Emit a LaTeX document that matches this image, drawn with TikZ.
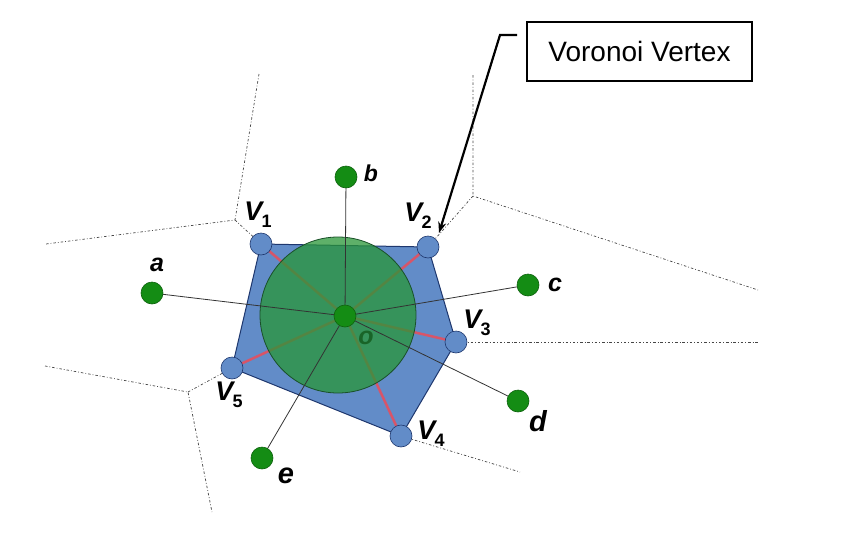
\documentclass[tikz,border=0pt]{standalone}
\usepackage{fontspec}
\setmainfont{Liberation Sans}
\usetikzlibrary{arrows.meta}
\definecolor{polyblue}{RGB}{98,140,200}
\definecolor{polyedge}{RGB}{30,55,110}
\definecolor{circgreen}{RGB}{40,150,55}
\definecolor{circedge}{RGB}{25,80,40}
\definecolor{sitegreen}{RGB}{20,140,20}
\definecolor{redline}{RGB}{215,85,105}
\definecolor{vorogray}{RGB}{70,70,70}
\definecolor{ogreen}{RGB}{25,100,40}
\pgfdeclarelayer{bg}
\pgfsetlayers{bg,main}
\newcommand{\vlab}[2]{V\kern-1pt{\fontsize{18}{18}\selectfont\bfseries\upshape\raisebox{-7pt}{#2}}}
\begin{document}
\begin{tikzpicture}[x=1pt,y=-1pt,
  site/.style={circle, fill=sitegreen, draw=sitegreen!70!black, line width=0.6pt, minimum size=22pt, inner sep=0pt},
  vert/.style={circle, fill=polyblue, draw=polyedge, line width=0.6pt, minimum size=22pt, inner sep=0pt},
  lab/.style={font=\bfseries\itshape\fontsize{25}{25}\selectfont, inner sep=0pt},
  vl/.style={font=\bfseries\itshape\fontsize{27}{27}\selectfont, inner sep=0pt},
  voro/.style={vorogray, line width=0.7pt, dash pattern=on 2.5pt off 2pt on 0.8pt off 2pt},
  spoke/.style={black!80, line width=0.8pt},
  redspoke/.style={redline, line width=2.5pt},
  callout/.style={draw, line width=2.4pt, minimum width=225pt, minimum height=59pt, inner sep=0pt, font=\fontsize{28}{28}\selectfont}]
\useasboundingbox (0,0) rectangle (844,552);

% sites and vertices
\node[vert] (V1) at (261,244) {};
\node[vert] (V2) at (428,247) {};
\node[vert] (V3) at (456,342) {};
\node[vert] (V4) at (401,436) {};
\node[vert] (V5) at (232,368) {};
\node[site] (O) at (345,316) {};
\node[site] (a) at (152,293) {};
\node[site] (b) at (346,177) {};
\node[site] (c) at (528,285) {};
\node[site] (d) at (518,401) {};
\node[site] (e) at (262,458) {};

% voronoi structure coordinates
\coordinate (P1) at (235,220);
\coordinate (P1u) at (259,74);
\coordinate (P1l) at (46,244);
\coordinate (P2) at (473,196);
\coordinate (P2u) at (473,75);
\coordinate (P2r) at (758,290);
\coordinate (P3r) at (758,342);
\coordinate (P4r) at (520,472);
\coordinate (P5) at (188,392);
\coordinate (P5l) at (45,366);
\coordinate (P5d) at (212,512);

\begin{pgfonlayer}{bg}
  \draw[voro] (P1u) -- (P1) -- (P1l);
  \draw[voro] (P1) -- (V1.center);
  \draw[voro] (P2u) -- (P2) -- (P2r);
  \draw[voro] (P2) -- (V2.center);
  \draw[voro] (V3.center) -- (P3r);
  \draw[voro] (V4.center) -- (P4r);
  \draw[voro] (P5l) -- (P5) -- (P5d);
  \draw[voro] (P5) -- (V5.center);
  \filldraw[fill=polyblue, draw=polyedge, line width=1pt, line join=round]
    (V1.center) -- (V2.center) -- (V3.center) -- (V4.center) -- (V5.center) -- cycle;
  \foreach \v in {V1,V2,V3,V4,V5} \draw[redspoke] (O.center) -- (\v.center);
  \fill[circgreen, fill opacity=0.75] (338,315) circle[radius=78pt];
  \draw[circedge, line width=0.8pt] (338,315) circle[radius=78pt];
  \foreach \s in {a,b,c,d,e} \draw[spoke] (O.center) -- (\s.center);
\end{pgfonlayer}

% labels
\node[lab] (la) at (157,265) {a};
\node[lab, font=\bfseries\itshape\fontsize{23}{23}\selectfont] (lb) at (371,173) {b};
\node[lab] (lc) at (555,285) {c};
\node[lab, font=\bfseries\itshape\fontsize{29}{29}\selectfont] (ld) at (538,421) {d};
\node[lab, font=\bfseries\itshape\fontsize{29}{29}\selectfont] (le) at (286,476) {e};
\node[lab, text=ogreen] (lo) at (366,338) {o};
\node[vl] (l1) at (258,215) {\vlab{V}{1}};
\node[vl] (l2) at (418,216) {\vlab{V}{2}};
\node[vl] (l3) at (477,323) {\vlab{V}{3}};
\node[vl] (l4) at (431,434) {\vlab{V}{4}};
\node[vl] (l5) at (229,395) {\vlab{V}{5}};

% callout
\node[callout] (box) at (639.5,51.5) {Voronoi Vertex};
\coordinate (k1) at (517,35);
\coordinate (k2) at (500,35);
\coordinate (tip) at (439,233);
\draw[line width=2.2pt, -{Stealth[length=11pt,width=8pt]}] (k1) -- (k2) -- (tip);
\end{tikzpicture}
\end{document}
